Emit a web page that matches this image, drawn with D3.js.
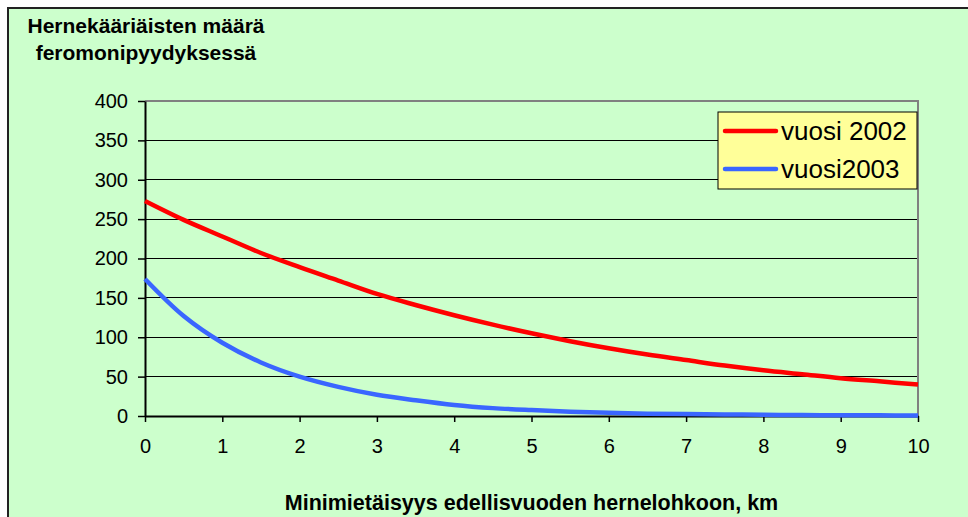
<!DOCTYPE html>
<html>
<head>
<meta charset="utf-8">
<script src="https://cdn.jsdelivr.net/npm/d3@7"></script>
<style>
  body { margin: 0; background: #ffffff; }
  text { font-family: "Liberation Sans", Arial, sans-serif; fill: #000; }
</style>
</head>
<body>
<div id="chart"></div>
<script>
// distance from last year's pea field, km
var distances = [0, 0.5, 1, 1.5, 2, 2.5, 3, 3.5, 4, 4.5, 5, 5.5, 6, 6.5, 7, 7.5, 8, 8.5, 9, 9.5, 10];
// moths per trap
var vuosi2002 = [273, 249, 228, 207, 189, 172, 155, 141, 128, 116, 105, 95, 86, 78, 71, 64, 58, 53, 48, 44, 40];
var vuosi2003 = [174, 127, 93, 68, 50, 37, 27, 20, 14, 10, 7.5, 5.5, 4, 3, 2.5, 2, 1.5, 1.2, 1, 0.8, 0.6];
var seriesNames = ["vuosi 2002", "vuosi2003"];
var seriesColors = ["#ff0000", "#3a66ff"];
var xTicks = [0, 1, 2, 3, 4, 5, 6, 7, 8, 9, 10];
var yTicks = [0, 50, 100, 150, 200, 250, 300, 350, 400];

var W = 968, H = 517;
var plot = { left: 145, right: 918, top: 101, bottom: 416 };

var svg = d3.select("#chart").append("svg")
    .attr("width", W)
    .attr("height", H);

// chart area (runs off the bottom/right of the window)
svg.append("rect")
    .attr("x", 8).attr("y", 8)
    .attr("width", W + 20).attr("height", H + 20)
    .style("fill", "#ccffcc")
    .style("stroke", "#222")
    .style("stroke-width", 2);

var x = d3.scaleLinear().domain([0, 10]).range([plot.left, plot.right]);
var y = d3.scaleLinear().domain([0, 400]).range([plot.bottom, plot.top]);

// gridlines
svg.append("g")
    .selectAll("line")
    .data(yTicks.filter(d => d > 0 && d < 400))
    .enter()
    .append("line")
    .attr("x1", plot.left).attr("x2", plot.right)
    .attr("y1", d => y(d)).attr("y2", d => y(d))
    .style("stroke", "#000")
    .style("stroke-width", 1)
    .attr("shape-rendering", "crispEdges");

// plot border top + right, grey
svg.append("path")
    .attr("d", "M" + plot.left + "," + y(400) + "H" + plot.right + "V" + plot.bottom)
    .style("fill", "none")
    .style("stroke", "#808080")
    .style("stroke-width", 2);

// axes
var yAxis = svg.append("g")
    .attr("transform", "translate(" + plot.left + ",0)")
    .call(d3.axisLeft(y).tickValues(yTicks).tickSize(7).tickPadding(10).tickSizeOuter(0));
var xAxis = svg.append("g")
    .attr("transform", "translate(0," + plot.bottom + ")")
    .call(d3.axisBottom(x).tickValues(xTicks).tickSize(6).tickPadding(17).tickSizeOuter(0));

[yAxis, xAxis].forEach(function(a) {
    a.select(".domain").style("stroke", "#000").style("stroke-width", 2);
    a.selectAll(".tick line").style("stroke", "#000").style("stroke-width", 1.5);
    a.selectAll("text")
        .style("font-family", "'Liberation Sans', Arial, sans-serif")
        .style("font-size", "20px")
        .style("fill", "#000");
});

// curves
var line = d3.line()
    .x((d, i) => x(distances[i]))
    .y(d => y(d))
    .curve(d3.curveCatmullRom);

[vuosi2002, vuosi2003].forEach(function(vals, i) {
    svg.append("path")
        .datum(vals)
        .attr("d", line)
        .style("fill", "none")
        .style("stroke", seriesColors[i])
        .style("stroke-width", 4.5)
        .style("stroke-linecap", "butt");
});

// legend
var lg = svg.append("g").attr("transform", "translate(718,112)");
lg.append("rect")
    .attr("width", 199).attr("height", 77)
    .style("fill", "#ffff99")
    .style("stroke", "#000")
    .style("stroke-width", 1);
seriesNames.forEach(function(name, i) {
    var yy = 19 + i * 38;
    lg.append("line")
        .attr("x1", 7).attr("x2", 58)
        .attr("y1", yy).attr("y2", yy)
        .style("stroke", seriesColors[i])
        .style("stroke-width", 4.5)
        .style("stroke-linecap", "round");
    lg.append("text")
        .attr("x", 63).attr("y", yy + 9)
        .style("font-size", "26px")
        .text(name);
});

// y title, two lines centred over the axis
svg.append("text")
    .attr("x", 146).attr("y", 33)
    .attr("text-anchor", "middle")
    .style("font-size", "21px")
    .style("font-weight", "bold")
    .text("Hernekääriäisten määrä");
svg.append("text")
    .attr("x", 146).attr("y", 60)
    .attr("text-anchor", "middle")
    .style("font-size", "21px")
    .style("font-weight", "bold")
    .text("feromonipyydyksessä");

// x title
svg.append("text")
    .attr("x", (plot.left + plot.right) / 2).attr("y", 510)
    .attr("text-anchor", "middle")
    .style("font-size", "21.5px")
    .style("font-weight", "bold")
    .text("Minimietäisyys edellisvuoden hernelohkoon, km");
</script>
</body>
</html>
